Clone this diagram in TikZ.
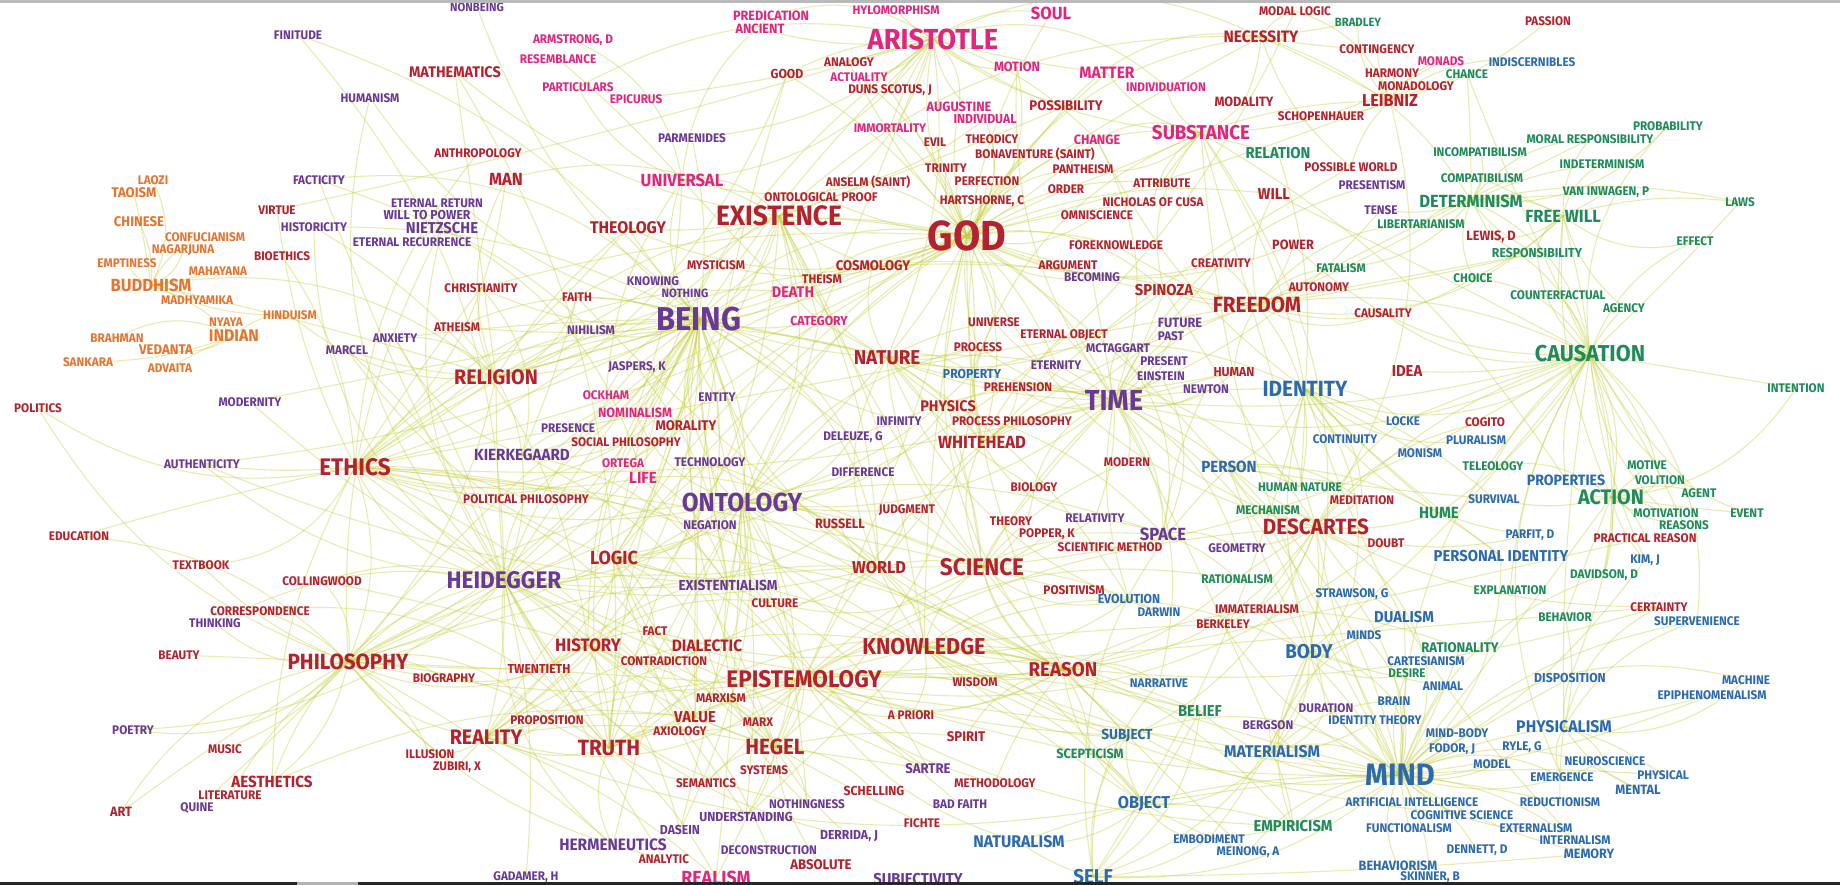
\documentclass[tikz,border=0pt]{standalone}
\usepackage{fontspec}
\setmainfont{Fira Sans}[FakeStretch=0.94]
\usetikzlibrary{backgrounds}
\definecolor{cr}{HTML}{B3222E}
\definecolor{cp}{HTML}{E0267F}
\definecolor{cu}{HTML}{6A3996}
\definecolor{cb}{HTML}{2C6AAE}
\definecolor{cg}{HTML}{1F8A5B}
\definecolor{co}{HTML}{E47430}
\definecolor{edgecol}{HTML}{C4CF3A}
\tikzset{
  lbl/.style={inner sep=0pt,anchor=center},
  lnk/.style={draw=edgecol,line width=0.27pt,opacity=0.4}
}
\newcommand{\W}[6]{\node[lbl,text=c#4,font=\bfseries\fontsize{\fpeval{(#5+max(0,min(1,(18-#5)/4)))/4}}{\fpeval{#5/4}}\selectfont] (#1) at (#2,#3) {#6};}
\begin{document}
\begin{tikzpicture}[x=0.25pt,y=-0.25pt]
\useasboundingbox (0,0) rectangle (1840,885);
% ---------- labels ----------
\W{finitude}{298}{35}{u}{11.5}{FINITUDE}
\W{mathematics}{455}{72}{r}{14.5}{MATHEMATICS}
\W{humanism}{370}{98}{u}{11.5}{HUMANISM}
\W{anthropology}{478}{153}{r}{11.5}{ANTHROPOLOGY}
\W{laozi}{153}{180}{o}{11.5}{LAOZI}
\W{taoism}{134}{193}{o}{13}{TAOISM}
\W{facticity}{319}{180}{u}{11.5}{FACTICITY}
\W{eternalreturn}{437}{203}{u}{11.5}{ETERNAL RETURN}
\W{willtopower}{427}{215}{u}{12}{WILL TO POWER}
\W{nietzsche}{442}{228}{u}{15}{NIETZSCHE}
\W{chinese}{139}{222}{o}{13}{CHINESE}
\W{confucianism}{205}{237}{o}{11.5}{CONFUCIANISM}
\W{nagarjuna}{183}{250}{o}{11.5}{NAGARJUNA}
\W{historicity}{314}{227}{u}{11.5}{HISTORICITY}
\W{virtue}{277}{210}{r}{11.5}{VIRTUE}
\W{eternalrec}{412}{242}{u}{11.5}{ETERNAL RECURRENCE}
\W{emptiness}{127}{263}{o}{11.5}{EMPTINESS}
\W{bioethics}{282}{256}{r}{11.5}{BIOETHICS}
\W{mahayana}{218}{271}{o}{11.5}{MAHAYANA}
\W{buddhism}{151}{285}{o}{17.5}{BUDDHISM}
\W{christianity}{481}{288}{r}{11.5}{CHRISTIANITY}
\W{nonbeing}{477}{7}{u}{11}{NONBEING}
\W{predication}{771}{16}{p}{12.5}{PREDICATION}
\W{ancient}{760}{29}{p}{12.5}{ANCIENT}
\W{hylomorphism}{896}{10}{p}{11.5}{HYLOMORPHISM}
\W{aristotle}{933}{39}{p}{29}{ARISTOTLE}
\W{armstrong}{573}{40}{p}{11.5}{ARMSTRONG, D}
\W{resemblance}{558}{59}{p}{11.5}{RESEMBLANCE}
\W{particulars}{578}{87}{p}{11.5}{PARTICULARS}
\W{epicurus}{636}{99}{p}{11.5}{EPICURUS}
\W{good}{787}{74}{r}{12}{GOOD}
\W{analogy}{849}{62}{r}{11.5}{ANALOGY}
\W{actuality}{859}{77}{p}{11.5}{ACTUALITY}
\W{dunsscotus}{890}{90}{r}{11.5}{DUNS SCOTUS, J}
\W{parmenides}{692}{138}{u}{11.5}{PARMENIDES}
\W{immortality}{890}{128}{p}{11.5}{IMMORTALITY}
\W{man}{506}{179}{r}{17.5}{MAN}
\W{universal}{682}{180}{p}{17.5}{UNIVERSAL}
\W{anselm}{868}{182}{r}{11.5}{ANSELM (SAINT)}
\W{ontoproof}{821}{197}{r}{11.5}{ONTOLOGICAL PROOF}
\W{existence}{779}{216}{r}{28}{EXISTENCE}
\W{theology}{628}{228}{r}{16.5}{THEOLOGY}
\W{mysticism}{716}{265}{r}{11.5}{MYSTICISM}
\W{knowing}{653}{281}{u}{11.5}{KNOWING}
\W{nothing}{685}{293}{u}{11}{NOTHING}
\W{cosmology}{873}{266}{r}{13}{COSMOLOGY}
\W{theism}{822}{279}{r}{11.5}{THEISM}
\W{death}{793}{292}{p}{14.5}{DEATH}
\W{faith}{577}{297}{r}{11.5}{FAITH}
\W{soul}{1051}{13}{p}{17.5}{SOUL}
\W{modallogic}{1295}{11}{r}{11.5}{MODAL LOGIC}
\W{bradley}{1358}{22}{g}{11}{BRADLEY}
\W{necessity}{1261}{37}{r}{16}{NECESSITY}
\W{contingency}{1377}{49}{r}{11.5}{CONTINGENCY}
\W{motion}{1017}{67}{p}{12.5}{MOTION}
\W{matter}{1107}{73}{p}{16}{MATTER}
\W{individuation}{1166}{87}{p}{11.5}{INDIVIDUATION}
\W{augustine}{959}{107}{p}{12.5}{AUGUSTINE}
\W{individual}{985}{119}{p}{12}{INDIVIDUAL}
\W{possibility}{1066}{106}{r}{13}{POSSIBILITY}
\W{modality}{1244}{102}{r}{12.5}{MODALITY}
\W{schopenhauer}{1321}{116}{r}{11.5}{SCHOPENHAUER}
\W{leibniz}{1390}{101}{r}{17}{LEIBNIZ}
\W{substance}{1201}{133}{p}{20}{SUBSTANCE}
\W{evil}{935}{142}{r}{11.5}{EVIL}
\W{theodicy}{992}{139}{r}{11.5}{THEODICY}
\W{change}{1097}{140}{p}{12.5}{CHANGE}
\W{bonaventure}{1035}{154}{r}{11.5}{BONAVENTURE (SAINT)}
\W{relation}{1278}{153}{g}{15}{RELATION}
\W{trinity}{946}{168}{r}{11.5}{TRINITY}
\W{perfection}{987}{181}{r}{11.5}{PERFECTION}
\W{pantheism}{1083}{169}{r}{11.5}{PANTHEISM}
\W{order}{1066}{189}{r}{11.5}{ORDER}
\W{attribute}{1162}{183}{r}{11.5}{ATTRIBUTE}
\W{possibleworld}{1351}{167}{r}{11.5}{POSSIBLE WORLD}
\W{presentism}{1372}{185}{u}{11.5}{PRESENTISM}
\W{will}{1274}{194}{r}{15}{WILL}
\W{hartshorne}{982}{201}{r}{11.5}{HARTSHORNE, C}
\W{nicholas}{1153}{202}{r}{11.5}{NICHOLAS OF CUSA}
\W{omniscience}{1097}{215}{r}{11.5}{OMNISCIENCE}
\W{god}{967}{236}{r}{42}{GOD}
\W{tense}{1381}{210}{u}{11.5}{TENSE}
\W{libertarianism}{1421}{224}{g}{11.5}{LIBERTARIANISM}
\W{foreknowledge}{1116}{245}{r}{11.5}{FOREKNOWLEDGE}
\W{power}{1293}{245}{r}{12.5}{POWER}
\W{argument}{1068}{265}{r}{11.5}{ARGUMENT}
\W{becoming}{1092}{277}{u}{11.5}{BECOMING}
\W{creativity}{1221}{263}{r}{11.5}{CREATIVITY}
\W{fatalism}{1341}{268}{g}{11.5}{FATALISM}
\W{autonomy}{1319}{287}{r}{11.5}{AUTONOMY}
\W{spinoza}{1164}{290}{r}{15}{SPINOZA}
\W{passion}{1548}{21}{r}{11.5}{PASSION}
\W{monads}{1441}{61}{p}{11.5}{MONADS}
\W{indiscernibles}{1532}{62}{b}{11.5}{INDISCERNIBLES}
\W{harmony}{1392}{73}{r}{11.5}{HARMONY}
\W{chance}{1467}{74}{g}{11.5}{CHANCE}
\W{monadology}{1416}{86}{r}{11.5}{MONADOLOGY}
\W{probability}{1668}{126}{g}{11.5}{PROBABILITY}
\W{moralresp}{1590}{139}{g}{11.5}{MORAL RESPONSIBILITY}
\W{incompat}{1480}{152}{g}{11.5}{INCOMPATIBILISM}
\W{indeterminism}{1602}{164}{g}{11.5}{INDETERMINISM}
\W{compat}{1482}{178}{g}{11.5}{COMPATIBILISM}
\W{vaninwagen}{1606}{192}{g}{11.5}{VAN INWAGEN, P}
\W{determinism}{1471}{201}{g}{17.5}{DETERMINISM}
\W{freewill}{1563}{216}{g}{17.5}{FREE WILL}
\W{laws}{1740}{202}{g}{11.5}{LAWS}
\W{lewis}{1491}{237}{r}{12.5}{LEWIS, D}
\W{effect}{1695}{241}{g}{11.5}{EFFECT}
\W{responsibility}{1537}{253}{g}{12}{RESPONSIBILITY}
\W{choice}{1473}{278}{g}{11.5}{CHOICE}
\W{counterfactual}{1558}{295}{g}{11.5}{COUNTERFACTUAL}
\W{madhyamika}{197}{300}{o}{11.5}{MADHYAMIKA}
\W{hinduism}{290}{315}{o}{11.5}{HINDUISM}
\W{nyaya}{226}{322}{o}{11.5}{NYAYA}
\W{indian}{234}{336}{o}{16.5}{INDIAN}
\W{atheism}{457}{327}{r}{11.5}{ATHEISM}
\W{brahman}{117}{338}{o}{11.5}{BRAHMAN}
\W{vedanta}{166}{350}{o}{13}{VEDANTA}
\W{anxiety}{395}{338}{u}{11.5}{ANXIETY}
\W{marcel}{347}{350}{u}{11.5}{MARCEL}
\W{sankara}{88}{362}{o}{11.5}{SANKARA}
\W{advaita}{170}{368}{o}{11.5}{ADVAITA}
\W{religion}{496}{377}{r}{21}{RELIGION}
\W{modernity}{250}{402}{u}{11.5}{MODERNITY}
\W{politics}{38}{408}{r}{11.5}{POLITICS}
\W{authenticity}{202}{464}{u}{11.5}{AUTHENTICITY}
\W{ethics}{355}{467}{r}{24}{ETHICS}
\W{education}{79}{536}{r}{11.5}{EDUCATION}
\W{textbook}{201}{565}{r}{11.5}{TEXTBOOK}
\W{collingwood}{322}{581}{r}{11.5}{COLLINGWOOD}
\W{heidegger}{504}{580}{u}{24}{HEIDEGGER}
\W{being}{699}{319}{u}{33}{BEING}
\W{nihilism}{591}{330}{u}{11.5}{NIHILISM}
\W{category}{819}{321}{p}{12}{CATEGORY}
\W{nature}{887}{358}{r}{20}{NATURE}
\W{jaspers}{637}{367}{u}{11.5}{JASPERS, K}
\W{ockham}{606}{395}{p}{11.5}{OCKHAM}
\W{entity}{717}{397}{u}{11.5}{ENTITY}
\W{nominalism}{635}{413}{p}{12.5}{NOMINALISM}
\W{presence}{568}{428}{u}{11.5}{PRESENCE}
\W{morality}{686}{426}{r}{13}{MORALITY}
\W{infinity}{899}{421}{u}{11.5}{INFINITY}
\W{socialphil}{626}{442}{r}{11.5}{SOCIAL PHILOSOPHY}
\W{deleuze}{853}{437}{u}{11.5}{DELEUZE, G}
\W{kierkegaard}{522}{455}{u}{15.5}{KIERKEGAARD}
\W{ortega}{623}{463}{p}{11.5}{ORTEGA}
\W{technology}{710}{462}{u}{11.5}{TECHNOLOGY}
\W{life}{643}{478}{p}{15.5}{LIFE}
\W{difference}{863}{472}{u}{11.5}{DIFFERENCE}
\W{politicalphil}{526}{499}{r}{11.5}{POLITICAL PHILOSOPHY}
\W{ontology}{742}{502}{u}{26}{ONTOLOGY}
\W{judgment}{907}{510}{r}{11.5}{JUDGMENT}
\W{negation}{710}{525}{u}{11.5}{NEGATION}
\W{russell}{840}{524}{r}{12.5}{RUSSELL}
\W{logic}{614}{558}{r}{19}{LOGIC}
\W{world}{879}{568}{r}{17}{WORLD}
\W{existentialism}{728}{585}{u}{13.5}{EXISTENTIALISM}
\W{freedom}{1257}{305}{r}{22}{FREEDOM}
\W{causality}{1383}{313}{r}{11.5}{CAUSALITY}
\W{universe}{994}{322}{r}{11.5}{UNIVERSE}
\W{eternalobject}{1064}{335}{r}{11.5}{ETERNAL OBJECT}
\W{future}{1180}{323}{u}{12.5}{FUTURE}
\W{past}{1171}{336}{u}{11.5}{PAST}
\W{process}{978}{347}{r}{11.5}{PROCESS}
\W{mctaggart}{1118}{348}{u}{11.5}{MCTAGGART}
\W{present}{1164}{361}{u}{11.5}{PRESENT}
\W{eternity}{1056}{365}{u}{11.5}{ETERNITY}
\W{property}{972}{374}{b}{12}{PROPERTY}
\W{human}{1234}{372}{r}{12}{HUMAN}
\W{einstein}{1161}{376}{u}{11.5}{EINSTEIN}
\W{prehension}{1018}{387}{r}{11.5}{PREHENSION}
\W{newton}{1206}{389}{u}{11.5}{NEWTON}
\W{identity}{1305}{389}{b}{22}{IDENTITY}
\W{time}{1114}{400}{u}{29}{TIME}
\W{physics}{948}{406}{r}{14.5}{PHYSICS}
\W{processphil}{1012}{421}{r}{11.5}{PROCESS PHILOSOPHY}
\W{whitehead}{982}{442}{r}{17.5}{WHITEHEAD}
\W{continuity}{1345}{439}{b}{11.5}{CONTINUITY}
\W{modern}{1127}{462}{r}{11.5}{MODERN}
\W{person}{1229}{467}{b}{15.5}{PERSON}
\W{biology}{1034}{487}{r}{11.5}{BIOLOGY}
\W{humannature}{1300}{487}{g}{11.5}{HUMAN NATURE}
\W{meditation}{1362}{500}{r}{11.5}{MEDITATION}
\W{mechanism}{1268}{510}{g}{11.5}{MECHANISM}
\W{theory}{1011}{521}{r}{11.5}{THEORY}
\W{relativity}{1095}{518}{u}{11.5}{RELATIVITY}
\W{descartes}{1316}{527}{r}{22}{DESCARTES}
\W{popper}{1047}{534}{r}{11.5}{POPPER, K}
\W{space}{1163}{534}{u}{17.5}{SPACE}
\W{scimethod}{1110}{547}{r}{11.5}{SCIENTIFIC METHOD}
\W{geometry}{1237}{548}{u}{11.5}{GEOMETRY}
\W{doubt}{1386}{543}{r}{11.5}{DOUBT}
\W{science}{982}{567}{r}{24}{SCIENCE}
\W{rationalism}{1237}{579}{g}{11.5}{RATIONALISM}
\W{positivism}{1074}{590}{r}{11.5}{POSITIVISM}
\W{agency}{1624}{308}{g}{11.5}{AGENCY}
\W{causation}{1590}{354}{g}{23}{CAUSATION}
\W{idea}{1407}{371}{r}{15}{IDEA}
\W{intention}{1796}{388}{g}{11.5}{INTENTION}
\W{locke}{1403}{421}{b}{11.5}{LOCKE}
\W{cogito}{1485}{422}{r}{11.5}{COGITO}
\W{pluralism}{1476}{440}{b}{11.5}{PLURALISM}
\W{monism}{1420}{453}{b}{11.5}{MONISM}
\W{teleology}{1493}{466}{g}{11.5}{TELEOLOGY}
\W{motive}{1647}{465}{g}{11.5}{MOTIVE}
\W{properties}{1566}{480}{b}{14}{PROPERTIES}
\W{volition}{1660}{480}{g}{11.5}{VOLITION}
\W{action}{1611}{497}{g}{21}{ACTION}
\W{agent}{1699}{493}{g}{11.5}{AGENT}
\W{survival}{1494}{499}{b}{11.5}{SURVIVAL}
\W{hume}{1439}{513}{g}{15.5}{HUME}
\W{motivation}{1666}{513}{g}{11.5}{MOTIVATION}
\W{event}{1747}{513}{g}{11.5}{EVENT}
\W{reasons}{1684}{525}{g}{11.5}{REASONS}
\W{parfit}{1530}{535}{b}{11.5}{PARFIT, D}
\W{practicalreason}{1645}{538}{r}{11.5}{PRACTICAL REASON}
\W{personalid}{1501}{556}{b}{15}{PERSONAL IDENTITY}
\W{kim}{1645}{560}{b}{11.5}{KIM, J}
\W{davidson}{1604}{575}{g}{11.5}{DAVIDSON, D}
\W{explanation}{1510}{590}{g}{11.5}{EXPLANATION}
\W{correspondence}{260}{611}{r}{11.5}{CORRESPONDENCE}
\W{thinking}{215}{623}{u}{11.5}{THINKING}
\W{beauty}{179}{655}{r}{11.5}{BEAUTY}
\W{philosophy}{348}{662}{r}{22}{PHILOSOPHY}
\W{biography}{444}{678}{r}{11.5}{BIOGRAPHY}
\W{poetry}{133}{730}{u}{11.5}{POETRY}
\W{music}{225}{749}{r}{11.5}{MUSIC}
\W{illusion}{430}{754}{r}{11.5}{ILLUSION}
\W{zubiri}{457}{767}{r}{11.5}{ZUBIRI, X}
\W{reality}{486}{737}{r}{21}{REALITY}
\W{aesthetics}{272}{782}{r}{15.5}{AESTHETICS}
\W{literature}{230}{795}{r}{11.5}{LITERATURE}
\W{quine}{197}{808}{u}{11.5}{QUINE}
\W{art}{121}{812}{r}{12.5}{ART}
\W{culture}{775}{603}{r}{11.5}{CULTURE}
\W{fact}{655}{631}{r}{11.5}{FACT}
\W{history}{588}{645}{r}{18}{HISTORY}
\W{dialectic}{707}{646}{r}{16}{DIALECTIC}
\W{contradiction}{664}{661}{r}{11.5}{CONTRADICTION}
\W{twentieth}{539}{669}{r}{12}{TWENTIETH}
\W{knowledge}{924}{647}{r}{23}{KNOWLEDGE}
\W{epistemology}{804}{679}{r}{24}{EPISTEMOLOGY}
\W{marxism}{721}{698}{r}{11.5}{MARXISM}
\W{proposition}{547}{720}{r}{11.5}{PROPOSITION}
\W{value}{695}{717}{r}{15}{VALUE}
\W{marx}{758}{722}{r}{11.5}{MARX}
\W{apriori}{911}{715}{r}{11.5}{A PRIORI}
\W{axiology}{680}{731}{r}{11.5}{AXIOLOGY}
\W{truth}{609}{748}{r}{22}{TRUTH}
\W{hegel}{775}{747}{r}{22}{HEGEL}
\W{systems}{764}{770}{r}{11.5}{SYSTEMS}
\W{semantics}{706}{783}{r}{11.5}{SEMANTICS}
\W{schelling}{874}{791}{r}{12}{SCHELLING}
\W{sartre}{928}{769}{u}{13}{SARTRE}
\W{spirit}{966}{737}{r}{13}{SPIRIT}
\W{nothingness}{807}{804}{u}{11.5}{NOTHINGNESS}
\W{understanding}{746}{817}{u}{12}{UNDERSTANDING}
\W{methodology}{995}{783}{r}{11.5}{METHODOLOGY}
\W{badfaith}{960}{804}{u}{11.5}{BAD FAITH}
\W{fichte}{922}{823}{r}{11.5}{FICHTE}
\W{dasein}{680}{830}{u}{12}{DASEIN}
\W{derrida}{849}{836}{u}{12}{DERRIDA, J}
\W{hermeneutics}{613}{845}{u}{16}{HERMENEUTICS}
\W{deconstruction}{769}{850}{u}{11.5}{DECONSTRUCTION}
\W{analytic}{664}{859}{r}{11.5}{ANALYTIC}
\W{absolute}{821}{865}{r}{13}{ABSOLUTE}
\W{gadamer}{526}{877}{u}{11.5}{GADAMER, H}
\W{realism}{716}{878}{p}{19}{REALISM}
\W{subjectivity}{918}{880}{u}{15}{SUBJECTIVITY}
\W{strawson}{1352}{594}{b}{11.5}{STRAWSON, G}
\W{evolution}{1129}{599}{b}{12}{EVOLUTION}
\W{darwin}{1159}{612}{b}{11.5}{DARWIN}
\W{immaterialism}{1257}{609}{r}{11.5}{IMMATERIALISM}
\W{berkeley}{1223}{624}{r}{11.5}{BERKELEY}
\W{dualism}{1404}{617}{b}{15}{DUALISM}
\W{minds}{1364}{635}{b}{11.5}{MINDS}
\W{body}{1309}{652}{b}{20}{BODY}
\W{reason}{1063}{670}{r}{20}{REASON}
\W{wisdom}{975}{682}{r}{11.5}{WISDOM}
\W{narrative}{1159}{683}{b}{11.5}{NARRATIVE}
\W{belief}{1200}{711}{g}{15}{BELIEF}
\W{duration}{1326}{708}{u}{11.5}{DURATION}
\W{bergson}{1268}{725}{u}{11.5}{BERGSON}
\W{identitytheory}{1375}{720}{b}{11.5}{IDENTITY THEORY}
\W{brain}{1394}{701}{b}{11.5}{BRAIN}
\W{subject}{1127}{736}{b}{13.5}{SUBJECT}
\W{scepticism}{1090}{754}{g}{12.5}{SCEPTICISM}
\W{materialism}{1272}{752}{b}{16.5}{MATERIALISM}
\W{mind}{1400}{775}{b}{31}{MIND}
\W{object}{1144}{804}{b}{17}{OBJECT}
\W{artificialint}{1412}{802}{b}{11.5}{ARTIFICIAL INTELLIGENCE}
\W{empiricism}{1293}{826}{g}{15}{EMPIRICISM}
\W{functionalism}{1409}{828}{b}{11.5}{FUNCTIONALISM}
\W{naturalism}{1019}{842}{b}{16.5}{NATURALISM}
\W{embodiment}{1209}{839}{b}{11.5}{EMBODIMENT}
\W{meinong}{1248}{852}{b}{11.5}{MEINONG, A}
\W{behaviorism}{1398}{866}{b}{12.5}{BEHAVIORISM}
\W{self}{1093}{877}{b}{20}{SELF}
\W{skinner}{1430}{877}{b}{11.5}{SKINNER, B}
\W{certainty}{1659}{607}{r}{11.5}{CERTAINTY}
\W{supervenience}{1697}{621}{b}{11.5}{SUPERVENIENCE}
\W{behavior}{1565}{617}{g}{11.5}{BEHAVIOR}
\W{rationality}{1460}{648}{g}{13}{RATIONALITY}
\W{cartesianism}{1426}{661}{b}{11.5}{CARTESIANISM}
\W{desire}{1407}{673}{g}{11.5}{DESIRE}
\W{animal}{1443}{686}{b}{11.5}{ANIMAL}
\W{disposition}{1570}{678}{b}{12}{DISPOSITION}
\W{machine}{1746}{680}{b}{11.5}{MACHINE}
\W{epiphenomenalism}{1712}{695}{b}{11.5}{EPIPHENOMENALISM}
\W{physicalism}{1564}{727}{b}{16.5}{PHYSICALISM}
\W{mindbody}{1457}{733}{b}{11.5}{MIND-BODY}
\W{fodor}{1452}{749}{b}{11.5}{FODOR, J}
\W{ryle}{1522}{747}{b}{11.5}{RYLE, G}
\W{neuroscience}{1605}{761}{b}{11.5}{NEUROSCIENCE}
\W{model}{1492}{764}{b}{11.5}{MODEL}
\W{emergence}{1562}{777}{b}{11.5}{EMERGENCE}
\W{physical}{1663}{775}{b}{11.5}{PHYSICAL}
\W{mental}{1638}{790}{b}{12.5}{MENTAL}
\W{cogsci}{1462}{815}{b}{11.5}{COGNITIVE SCIENCE}
\W{reductionism}{1560}{802}{b}{11.5}{REDUCTIONISM}
\W{externalism}{1536}{828}{b}{11.5}{EXTERNALISM}
\W{internalism}{1575}{840}{b}{11.5}{INTERNALISM}
\W{dennett}{1477}{850}{b}{11.5}{DENNETT, D}
\W{memory}{1589}{854}{b}{12.5}{MEMORY}
% ---------- connectors ----------
\begin{pgfonlayer}{background}
\fill[white] (0,0) rectangle (1840,885);
\foreach \h/\lst in {%
 god/{aristotle,existence,being,ontoproof,anselm,theology,theism,omniscience,foreknowledge,perfection,trinity,evil,theodicy,augustine,hartshorne,spinoza,religion,faith,atheism,christianity,pantheism,nicholas,creativity,time,freedom,substance,nature,death,mysticism,knowledge,reason,ethics,philosophy,whitehead,leibniz,descartes,soul,immortality,cosmology,argument,becoming,eternity,process,universe,order,power,will,good,necessity,possibility,truth,mind,heidegger,hegel,epistemology,ontology,bonaventure,dunsscotus,individual,analogy,actuality,attribute,change,motion,matter},
 being/{ontology,heidegger,existence,nothing,knowing,nihilism,jaspers,entity,presence,category,dasein,time,truth,logic,life,kierkegaard,religion,ethics,nonbeing,parmenides,universal,theology,death,becoming,nature,world,aristotle,hegel,philosophy,existentialism,sartre,nothingness,finitude,humanism,anxiety,facticity,authenticity,historicity,marcel,modernity,ockham,nominalism,morality,socialphil,ortega,technology,negation,infinity,difference,deleuze,atheism,christianity,faith,mysticism,politicalphil,history,reality},
 ontology/{heidegger,epistemology,knowledge,science,world,logic,truth,existence,russell,negation,technology,difference,deleuze,entity,category,nominalism,realism,time,space,mind,hegel,dasein,philosophy,ethics,hermeneutics,existentialism,understanding,reality,value,judgment,culture,dialectic,property,process,nature,physics,infinity},
 time/{space,eternity,present,past,future,mctaggart,einstein,newton,relativity,tense,presentism,becoming,change,process,whitehead,duration,bergson,physics,universe,science,modern,identity,causation,freedom,eternalobject,prehension,processphil,infinity,motion,spinoza,human,person,descartes,geometry,theory,biology,nature,evolution,narrative},
 existence/{ontoproof,anselm,universal,theology,mysticism,necessity,possibility,aristotle,knowledge,truth,philosophy,religion,nature,world,meinong,reality,death,man,mathematics,cosmology,theism,category},
 causation/{action,freewill,determinism,agency,counterfactual,effect,laws,event,hume,explanation,causality,intention,mind,science,teleology,probability,chance,lewis,davidson,kim,supervenience,reasons,motivation,volition,agent,identity,body,properties,disposition,physicalism,emergence,idea,freedom,responsibility,locke,choice,time,descartes,power,will},
 mind/{body,dualism,materialism,physicalism,brain,identitytheory,functionalism,behaviorism,artificialint,cogsci,mindbody,fodor,ryle,dennett,model,emergence,reductionism,externalism,internalism,memory,mental,physical,neuroscience,supervenience,epiphenomenalism,machine,animal,cartesianism,desire,rationality,minds,descartes,person,self,object,subject,knowledge,empiricism,belief,action,personalid,skinner,kim,davidson,disposition,meinong,embodiment,naturalism,bergson,duration,strawson,berkeley,immaterialism,reason,scepticism},
 heidegger/{dasein,existentialism,hermeneutics,gadamer,technology,philosophy,truth,logic,history,kierkegaard,nietzsche,sartre,derrida,understanding,world,ethics,religion,life,politicalphil,twentieth,historicity,facticity,finitude,authenticity,anxiety,humanism,modernity,thinking,poetry,art,aesthetics,reality,collingwood,deconstruction,analytic,nothingness,jaspers,marcel},
 ethics/{philosophy,religion,morality,virtue,bioethics,politics,education,good,value,aesthetics,freedom,responsibility,socialphil,politicalphil,life,death,christianity,reason,knowledge,human,nature,science,man,anthropology,theology,textbook,authenticity},
 philosophy/{aesthetics,logic,history,science,religion,biography,twentieth,collingwood,textbook,correspondence,thinking,beauty,art,music,literature,poetry,quine,reality,truth,epistemology,knowledge,mind,education,illusion,zubiri,proposition,hermeneutics,analytic,politics},
 epistemology/{knowledge,truth,reason,belief,empiricism,rationalism,scepticism,apriori,science,methodology,hegel,certainty,doubt,descartes,value,axiology,semantics,logic,fact,proposition,reality,realism,naturalism,marxism,subject,object,wisdom,culture},
 knowledge/{science,truth,reason,belief,wisdom,apriori,object,subject,narrative,certainty,empiricism,understanding,world,fact,cogsci,body,berkeley,evolution,positivism},
 hegel/{dialectic,marx,marxism,spirit,absolute,schelling,fichte,systems,history,contradiction,nothingness,sartre,kierkegaard,logic,reality,freedom,value,semantics,understanding,derrida},
 truth/{reality,logic,correspondence,proposition,semantics,fact,value,hermeneutics,realism,history,axiology,twentieth,dialectic},
 aristotle/{soul,matter,motion,hylomorphism,substance,actuality,analogy,predication,ancient,good,universal,category,individual,change,possibility,necessity,virtue,logic,nature,dunsscotus,augustine,epicurus,particulars,parmenides,immortality,individuation},
 substance/{matter,attribute,spinoza,leibniz,monads,individuation,relation,change,identity,mind,body,descartes,property,properties,modality,pantheism,order,nicholas},
 freedom/{will,determinism,freewill,autonomy,power,fatalism,responsibility,causality,foreknowledge,human,libertarianism,moralresp,choice,spinoza,creativity,humannature},
 identity/{person,personalid,continuity,self,body,locke,hume,parfit,survival,memory,strawson,monism,pluralism,change,relation,meditation,humannature,property},
 descartes/{cogito,meditation,doubt,body,dualism,cartesianism,rationalism,mechanism,geometry,certainty,scepticism,spinoza,leibniz,locke,hume,berkeley,immaterialism},
 science/{nature,physics,biology,theory,popper,scimethod,positivism,evolution,darwin,world,culture,technology,reason,modern,relativity,whitehead,judgment},
 determinism/{freewill,compat,incompat,indeterminism,libertarianism,fatalism,chance,probability,laws,responsibility,moralresp,vaninwagen,choice,tense},
 freewill/{moralresp,vaninwagen,responsibility,choice,agency,lewis,counterfactual,effect,laws,action,indeterminism,compat},
 leibniz/{monads,monadology,harmony,contingency,possibleworld,indiscernibles,necessity,modallogic,schopenhauer,passion,bradley,chance},
 necessity/{modallogic,contingency,possibility,modality,possibleworld,lewis,bradley},
 action/{agent,motive,volition,motivation,reasons,practicalreason,event,intention,davidson,kim,properties,behavior,teleology,survival},
 buddhism/{emptiness,mahayana,nagarjuna,madhyamika,chinese,confucianism,taoism,laozi,indian,hinduism,religion},
 indian/{vedanta,advaita,brahman,sankara,nyaya,hinduism},
 nietzsche/{eternalreturn,eternalrec,willtopower,nihilism,philosophy,life,facticity},
 religion/{christianity,atheism,faith,theology,mysticism,hinduism,buddhism,anxiety,kierkegaard,nihilism,man,mathematics},
 body/{brain,animal,desire,embodiment,minds,materialism,dualism,empiricism},
 physicalism/{supervenience,reductionism,emergence,physical,mental,neuroscience,epiphenomenalism,machine,disposition,behavior,certainty},
 reason/{knowledge,wisdom,truth,faith,logic,science,belief,spirit,apriori,rationalism,rationality,practicalreason,descartes,god,ethics,narrative,subject,object,scepticism,methodology},
 nature/{science,physics,world,universe,human,humannature,being,spinoza,whitehead,process,cosmology,category,darwin,evolution,biology,property},
 world/{being,knowledge,reality,object,subject,culture,technology,life,possibleworld,judgment,russell},
 logic/{proposition,semantics,russell,category,negation,dialectic,contradiction,modallogic,necessity,mathematics,fact},
 history/{culture,twentieth,dialectic,marx,marxism,biography,collingwood,historicity,fact,contradiction},
 reality/{illusion,zubiri,being,realism,object,knowledge,world,proposition,value},
 space/{geometry,relativity,einstein,newton,physics,scimethod,popper,mctaggart,rationalism},
 person/{personalid,body,self,humannature,mechanism,meditation,survival,parfit},
 self/{subject,object,body,naturalism,embodiment,narrative,memory,belief},
 object/{subject,meinong,embodiment,empiricism,scepticism,naturalism,belief,materialism},
 materialism/{brain,bergson,duration,empiricism,identitytheory,minds,strawson},
 whitehead/{process,processphil,prehension,eternalobject,creativity,universe,physics,relativity,hartshorne},
 kierkegaard/{anxiety,faith,christianity,presence,socialphil,existentialism},
 existentialism/{sartre,badfaith,nothingness,authenticity,jaspers,marcel,life,ortega},
 universal/{particulars,resemblance,armstrong,nominalism,ockham,predication,category,individual},
 value/{axiology,morality,ethics,good,aesthetics}%
} {
  \foreach \t [count=\i] in \lst {
    \pgfmathtruncatemacro\bnd{mod(\i*37+13,61)-30}
    \draw[lnk] (\h.center) to[bend left=\bnd] (\t.center);
  }
}
\end{pgfonlayer}
% ---------- window bars ----------
\fill[gray!55] (0,0) rectangle (1840,3);
\fill[black!85] (0,882) rectangle (1840,885);
\fill[gray!60] (297,882) rectangle (358,885);
\end{tikzpicture}
\end{document}
